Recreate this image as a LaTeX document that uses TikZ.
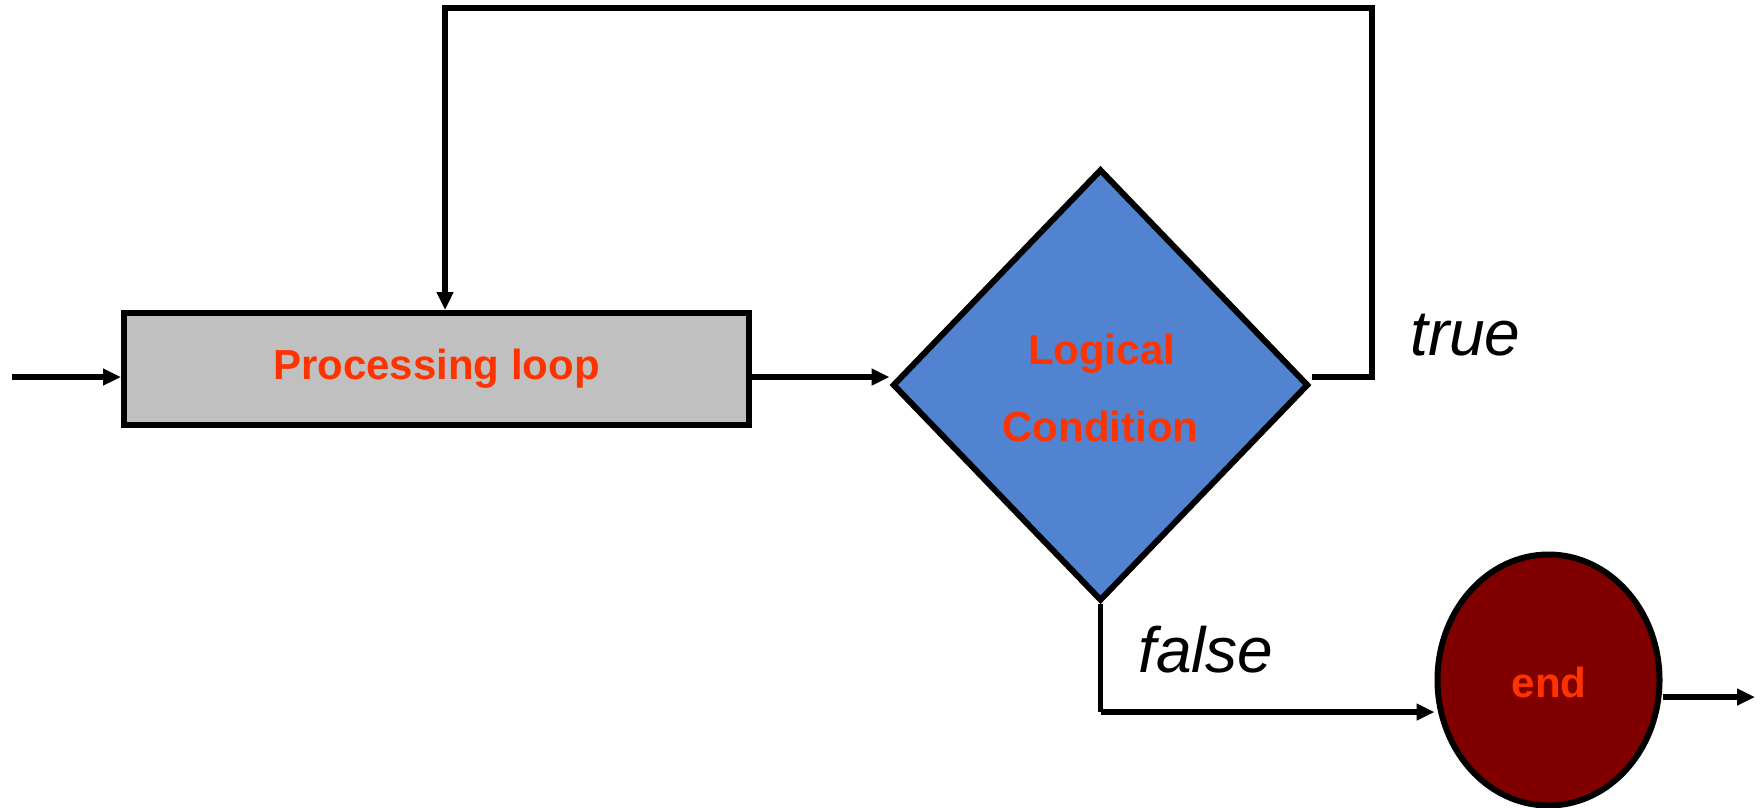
\documentclass[tikz,border=0pt]{standalone}
\usepackage{fontspec}
\setmainfont{Liberation Sans}
\usetikzlibrary{shapes.geometric,arrows.meta}
\definecolor{labelred}{HTML}{FF3300}
\definecolor{boxgray}{HTML}{C0C0C0}
\definecolor{diablue}{RGB}{81,131,208}
\definecolor{endred}{HTML}{800000}
\tikzset{
  shapebox/.style={draw=black, line width=6pt, inner sep=0pt},
  boldlbl/.style={text=labelred, font=\fontsize{42}{50}\selectfont\bfseries, anchor=base, inner sep=0pt},
  branchlbl/.style={text=black, font=\fontsize{64}{72}\selectfont\itshape, anchor=base west, inner sep=0pt},
  conn/.style={draw=black, line width=5.5pt, -{Triangle[length=18pt,width=16pt]}},
  plain/.style={draw=black, line width=5.5pt}
}
\begin{document}
\begin{tikzpicture}[x=1pt,y=-1pt]
\useasboundingbox (0,0) rectangle (1761,807);

% shapes
\node[shapebox, fill=boxgray, rectangle, minimum width=625pt, minimum height=112pt] (proc) at (436.5,369) {};
\node[shapebox, fill=diablue, diamond, minimum width=416pt, minimum height=432pt] (cond) at (1100.5,385) {};
\node[shapebox, fill=endred, ellipse, minimum width=222pt, minimum height=251pt] (fin) at (1548.5,680) {};

% labels
\node[boldlbl] (proctxt) at (436.5,379) {Processing loop};
\node[boldlbl] (condtxtA) at (1101.5,364) {Logical};
\node[boldlbl] (condtxtB) at (1100.5,441) {Condition};
\node[boldlbl] (fintxt) at (1549,697) {end};
\node[branchlbl] (truetxt) at (1410,355) {true};
\node[branchlbl] (falsetxt) at (1138,672) {false};

% connector waypoints
\coordinate (in) at (12,377);
\coordinate (tr) at (1372,377);
\coordinate (tt) at (1372,8);
\coordinate (tl) at (445,8);
\coordinate (fb) at (1100.5,712);
\coordinate (out) at (1755,697);

% connectors
\draw[conn] (in) -- (in -| proc.west);
\draw[conn] (proc.east |- in) -- (cond.west |- in);
\draw[plain, line join=miter] (cond.east |- in) -- (tr) -- (tt) -- (tl) -- ([yshift=-2pt]tl);
\draw[conn] (tl) -- (tl |- proc.north);
\draw[plain] (cond.south) -- (fb);
\draw[conn] (fb) -- (fb -| fin.west);
\draw[conn] (fin.east |- out) -- (out);
\end{tikzpicture}
\end{document}
